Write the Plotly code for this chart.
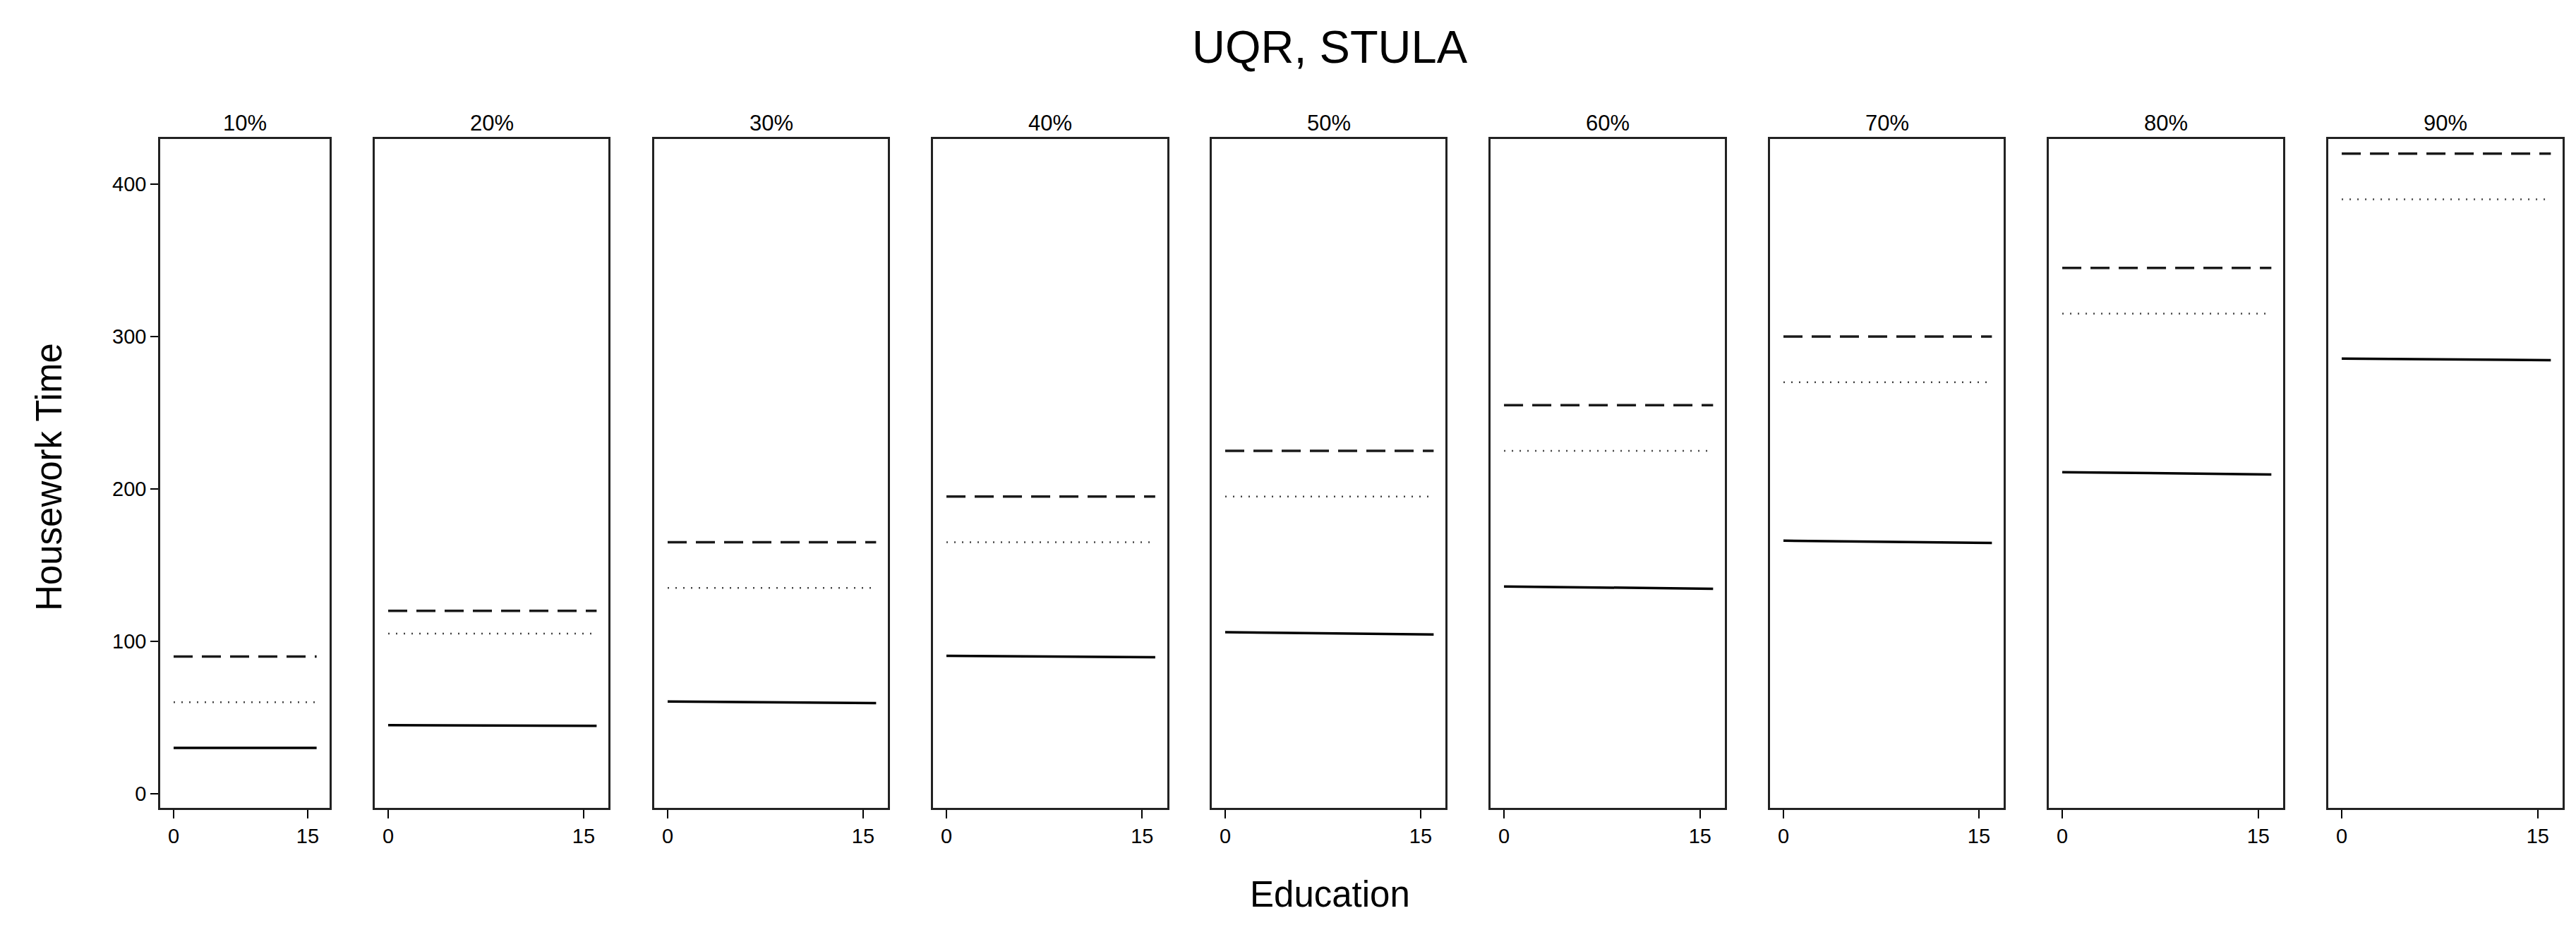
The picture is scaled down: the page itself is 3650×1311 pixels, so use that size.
import plotly.graph_objects as go

# ---- data ----
quantiles = ["10%", "20%", "30%", "40%", "50%", "60%", "70%", "80%", "90%"]
edu_x = [0, 16]
solid_start = [30, 45, 60.5, 90.5, 106, 136, 166, 211, 285.5]
solid_end = [30, 44.5, 59.5, 89.5, 104.5, 134.5, 164.5, 209.5, 284.5]
dotted_vals = [60, 105, 135, 165, 195, 225, 270, 315, 390]
dashed_vals = [90, 120, 165, 195, 225, 255, 300, 345, 420]
y_ticks = [0, 100, 200, 300, 400]
x_ticks = [0, 15]

W, H = 3650, 1311
lefts = [219, 523, 919, 1314, 1709, 2104, 2500, 2895, 3291]
rights = [459, 854, 1250, 1645.5, 2040, 2436, 2831, 3227, 3623]
top_px, bot_px = 189, 1137
FONT = "Liberation Sans, Arial, sans-serif"

fig = go.Figure()
for i, q in enumerate(quantiles):
    n = "" if i == 0 else str(i + 1)
    xa, ya = "x" + n, "y" + n
    fig.add_trace(go.Scatter(x=edu_x, y=[dashed_vals[i]] * 2, mode="lines",
                             line=dict(color="#1a1a1a", width=3.5, dash="27px,13px"),
                             xaxis=xa, yaxis=ya, showlegend=False))
    fig.add_trace(go.Scatter(x=edu_x, y=[dotted_vals[i]] * 2, mode="lines",
                             line=dict(color="#444", width=2.5, dash="2px,9px"),
                             xaxis=xa, yaxis=ya, showlegend=False))
    fig.add_trace(go.Scatter(x=edu_x, y=[solid_start[i], solid_end[i]], mode="lines",
                             line=dict(color="#000", width=3.5),
                             xaxis=xa, yaxis=ya, showlegend=False))
    xr = [-1.5, 17.45] if i == 0 else [-1.03, 16.9]
    axx = dict(domain=[lefts[i] / W, rights[i] / W], range=xr, tickvals=x_ticks,
               ticks="outside", ticklen=12, tickwidth=2, tickcolor="#000",
               showline=True, mirror=True, linecolor="#222", linewidth=2.5,
               showgrid=False, zeroline=False, anchor=ya,
               tickfont=dict(family=FONT, size=29, color="#000"))
    axy = dict(domain=[1 - bot_px / H, 1 - top_px / H], range=[-9.3, 429.6],
               tickvals=y_ticks, showticklabels=(i == 0),
               ticks="outside" if i == 0 else "", ticklen=11, tickwidth=2, tickcolor="#000",
               showline=True, mirror=True, linecolor="#222", linewidth=2.5,
               showgrid=False, zeroline=False, anchor=xa,
               tickfont=dict(family=FONT, size=29, color="#000"))
    fig.layout["xaxis" + n] = axx
    fig.layout["yaxis" + n] = axy
    fig.add_annotation(text=q, x=(lefts[i] + rights[i]) / 2 / W, y=1 - 186 / H,
                       xref="paper", yref="paper", xanchor="center", yanchor="bottom",
                       showarrow=False, font=dict(family=FONT, size=31, color="#000"))

fig.add_annotation(text="UQR, STULA", x=1876 / W, y=1 - 97 / H, xref="paper", yref="paper",
                   xanchor="center", yanchor="bottom", showarrow=False,
                   font=dict(family=FONT, size=65, color="#000"))
fig.add_annotation(text="Housework Time", x=61 / W, y=1 - 668 / H, xref="paper", yref="paper",
                   xanchor="center", yanchor="middle", textangle=-90, showarrow=False,
                   font=dict(family=FONT, size=51, color="#000"))
fig.add_annotation(text="Education", x=1876 / W, y=1 - 1290 / H, xref="paper", yref="paper",
                   xanchor="center", yanchor="bottom", showarrow=False,
                   font=dict(family=FONT, size=51, color="#000"))

fig.update_layout(width=W, height=H, margin=dict(l=0, r=0, t=0, b=0),
                  paper_bgcolor="white", plot_bgcolor="white", showlegend=False)
fig.write_html("out.html")
